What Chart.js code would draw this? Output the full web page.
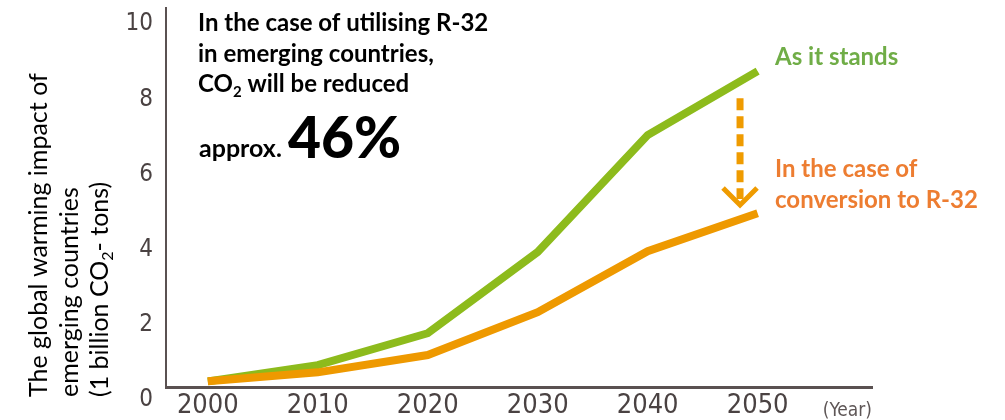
<!DOCTYPE html>
<html>
<head>
<meta charset="utf-8">
<script src="https://cdn.jsdelivr.net/npm/chart.js@4.4.1/dist/chart.umd.min.js"></script>
<style>
    html, body { margin: 0; padding: 0; background: #ffffff; }
    #wrap { width: 1005px; height: 420px; position: relative; }
</style>
</head>
<body>
<div id="wrap"><canvas id="gwiChart"></canvas></div>
<script>
// values
const years = [2000, 2010, 2020, 2030, 2040, 2050];
const asItStands = [0.5, 0.93, 1.78, 3.94, 7.05, 8.75];
const withR32 = [0.5, 0.74, 1.2, 2.34, 3.96, 4.97];
const yTicks = [0, 2, 4, 6, 8, 10];

// arrow between the two series (in data units)
const arrowYear = 2048.4;
const arrowFrom = 8.03;
const arrowTo = 5.19;

const narrow = "'Liberation Sans Narrow', 'DejaVu Sans Condensed', 'Roboto Condensed', sans-serif";
const textFont = "Lato, 'Open Sans', sans-serif";
const axisColor = '#5a5151';
const tickColor = '#4a4242';

function drawRuns(ctx, x, y, runs, size, weight, color) {
    ctx.fillStyle = color;
    runs.forEach(function (run) {
        const s = run.sub ? Math.round(size * 0.62) : size;
        ctx.font = weight + ' ' + s + 'px ' + textFont;
        ctx.fillText(run.text, x, y + (run.sub ? size * 0.2 : 0));
        x += ctx.measureText(run.text).width;
    });
}

const annotations = {
    id: 'annotations',
    afterDatasetsDraw: function (chart) {
        const ctx = chart.ctx;
        const xs = chart.scales.x;
        const ys = chart.scales.y;
        const ax = xs.getPixelForValue(arrowYear);
        const top = ys.getPixelForValue(arrowFrom);
        const tip = ys.getPixelForValue(arrowTo);

        ctx.save();
        ctx.strokeStyle = '#ef9b00';
        ctx.lineWidth = 7;
        ctx.setLineDash([12, 6]);
        ctx.beginPath();
        ctx.moveTo(ax, top);
        ctx.lineTo(ax, tip - 6);
        ctx.stroke();
        ctx.setLineDash([]);
        ctx.lineWidth = 5;
        ctx.lineJoin = 'miter';
        ctx.beginPath();
        ctx.moveTo(ax - 17, tip - 17);
        ctx.lineTo(ax, tip);
        ctx.lineTo(ax + 17, tip - 17);
        ctx.stroke();
        ctx.restore();
    },
    afterDraw: function (chart) {
        const ctx = chart.ctx;
        ctx.save();
        ctx.textAlign = 'left';
        ctx.textBaseline = 'alphabetic';

        // headline
        drawRuns(ctx, 198, 31, [{ text: 'In the case of utilising R-32' }], 24, 'bold', '#000');
        drawRuns(ctx, 198, 62, [{ text: 'in emerging countries,' }], 24, 'bold', '#000');
        drawRuns(ctx, 198, 92, [{ text: 'CO' }, { text: '2', sub: true }, { text: ' will be reduced' }], 24, 'bold', '#000');
        drawRuns(ctx, 199, 157, [{ text: 'approx.' }], 25, 'bold', '#000');
        drawRuns(ctx, 288, 158, [{ text: '46%' }], 57, '900', '#000');

        // series labels
        drawRuns(ctx, 775, 65, [{ text: 'As it stands' }], 24, 'bold', '#70ad47');
        drawRuns(ctx, 775, 177, [{ text: 'In the case of' }], 24, 'bold', '#ed7d31');
        drawRuns(ctx, 775, 208, [{ text: 'conversion to R-32' }], 24, 'bold', '#ed7d31');

        // year unit
        ctx.font = '19px ' + narrow;
        ctx.fillStyle = '#5e5656';
        ctx.textAlign = 'right';
        ctx.fillText('(Year)', chart.chartArea.right, 416);

        // y axis title, rotated
        ctx.textAlign = 'left';
        const lines = [
            { x: 47, runs: [{ text: 'The global warming impact of' }] },
            { x: 78, runs: [{ text: 'emerging countries' }] },
            { x: 108, runs: [{ text: '(1 billion CO' }, { text: '2', sub: true }, { text: '- tons)' }] }
        ];
        lines.forEach(function (line) {
            ctx.save();
            ctx.translate(line.x, 397);
            ctx.rotate(-Math.PI / 2);
            drawRuns(ctx, 0, 0, line.runs, 25, 'normal', '#000');
            ctx.restore();
        });
        ctx.restore();
    }
};

const canvas = document.getElementById('gwiChart');

new Chart(canvas.getContext('2d'), {
    type: 'line',
    data: {
        datasets: [
            {
                label: 'In the case of conversion to R-32',
                data: years.map(function (y, i) { return { x: y, y: withR32[i] }; }),
                borderColor: '#ee9900',
                borderWidth: 8,
                borderCapStyle: 'butt',
                borderJoinStyle: 'miter',
                pointRadius: 0,
                tension: 0,
                order: 0
            },
            {
                label: 'As it stands',
                data: years.map(function (y, i) { return { x: y, y: asItStands[i] }; }),
                borderColor: '#8dbb1c',
                borderWidth: 8,
                borderCapStyle: 'butt',
                borderJoinStyle: 'miter',
                pointRadius: 0,
                tension: 0,
                order: 1
            }
        ]
    },
    options: {
        responsive: true,
        maintainAspectRatio: false,
        animation: false,
        layout: {
            padding: { top: 8, right: 133, left: 0, bottom: 0 }
        },
        plugins: {
            legend: { display: false },
            tooltip: { enabled: false }
        },
        scales: {
            x: {
                type: 'linear',
                min: 1996.2,
                max: 2060.4,
                afterBuildTicks: function (scale) {
                    scale.ticks = years.map(function (v) { return { value: v }; });
                },
                afterFit: function (scale) {
                    scale.height = 33;
                    scale.paddingLeft = 0;
                    scale.paddingRight = 0;
                },
                grid: { display: false, drawTicks: false },
                border: { display: true, color: axisColor, width: 3 },
                ticks: {
                    color: tickColor,
                    padding: 3,
                    maxRotation: 0,
                    autoSkip: false,
                    font: { family: narrow, size: 27 },
                    callback: function (value) { return String(value); }
                }
            },
            y: {
                min: 0.35,
                max: 10.43,
                afterBuildTicks: function (scale) {
                    scale.ticks = yTicks.map(function (v) { return { value: v }; });
                },
                afterFit: function (scale) {
                    scale.width = 166;
                    scale.paddingTop = 0;
                    scale.paddingBottom = 0;
                },
                grid: { display: false, drawTicks: false },
                border: { display: true, color: axisColor, width: 2 },
                ticks: {
                    color: tickColor,
                    padding: 13,
                    autoSkip: false,
                    font: { family: narrow, size: 24 },
                    callback: function (value) { return String(value); }
                }
            }
        }
    },
    plugins: [annotations]
});
</script>
</body>
</html>
